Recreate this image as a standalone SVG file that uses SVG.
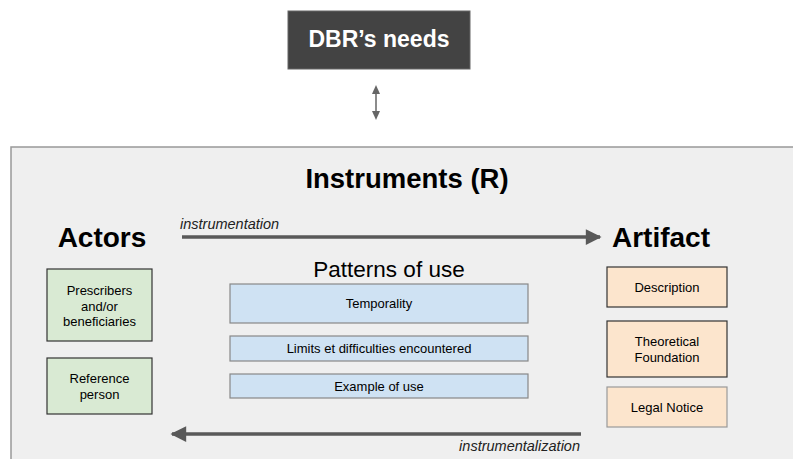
<svg xmlns="http://www.w3.org/2000/svg" width="793" height="459" viewBox="0 0 793 459">
<defs>
<style>
text{font-family:"Liberation Sans",Arial,sans-serif;fill:#000}
.h{font-weight:bold;font-size:28px}
.s{font-size:13px;text-anchor:middle}
.lbl{font-style:italic;font-size:14.5px;fill:#222}
.green{fill:#d9ead3;stroke:#333;stroke-width:1.2}
.blue{fill:#cfe2f3;stroke:#888;stroke-width:1.2}
.orange{fill:#fce5cd;stroke:#333;stroke-width:1.2}
.conn{stroke:#595959;stroke-width:3.5;fill:none}
</style>
<marker id="ah" viewBox="0 0 10 10" refX="9" refY="5" markerWidth="6.5" markerHeight="4.5" markerUnits="strokeWidth" orient="auto">
<path d="M0,0 L10,5 L0,10 z" fill="#595959"/>
</marker>
<marker id="sah" viewBox="0 0 10 10" refX="9" refY="5" markerWidth="7" markerHeight="6" orient="auto">
<path d="M0,0 L10,5 L0,10 z" fill="#666"/>
</marker>
</defs>
<rect width="793" height="459" fill="#fff"/>
<g id="dbr">
<rect x="288" y="11" width="182" height="58" fill="#434343" stroke="#666" stroke-width="1"/>
<text x="379" y="47" text-anchor="middle" font-weight="bold" font-size="23" style="fill:#fff">DBR’s needs</text>
</g>
<g id="instruments">
<rect x="11" y="147" width="800" height="330" fill="#efefef" stroke="#999" stroke-width="1.5"/>
<text x="407" y="188" text-anchor="middle" font-weight="bold" font-size="27.5">Instruments (R)</text>
</g>
<g id="actors">
<text class="h" x="102" y="247" text-anchor="middle">Actors</text>
</g>
<g id="artifact">
<text class="h" x="661" y="247" text-anchor="middle">Artifact</text>
</g>
<g id="patterns">
<text x="389" y="277" text-anchor="middle" font-size="22.5">Patterns of use</text>
</g>
<g id="prescribers">
<rect class="green" x="47" y="269" width="105" height="72"/>
<text class="s" x="99.5" y="295">Prescribers</text>
<text class="s" x="99.5" y="310.5">and/or</text>
<text class="s" x="99.5" y="326">beneficiaries</text>
</g>
<g id="reference">
<rect class="green" x="47" y="358" width="105" height="56"/>
<text class="s" x="99.5" y="383">Reference</text>
<text class="s" x="99.5" y="399">person</text>
</g>
<g id="temporality">
<rect class="blue" x="230" y="284" width="298" height="39"/>
<text class="s" x="379" y="308">Temporality</text>
</g>
<g id="limits">
<rect class="blue" x="230" y="336" width="298" height="25"/>
<text class="s" x="379" y="353">Limits et difficulties encountered</text>
</g>
<g id="example">
<rect class="blue" x="230" y="374" width="298" height="24"/>
<text class="s" x="379" y="390.5">Example of use</text>
</g>
<g id="description">
<rect class="orange" x="607" y="267" width="120" height="40"/>
<text class="s" x="667" y="292">Description</text>
</g>
<g id="theoretical">
<rect class="orange" x="607" y="321" width="120" height="56"/>
<text class="s" x="667" y="346">Theoretical</text>
<text class="s" x="667" y="362">Foundation</text>
</g>
<g id="legal">
<rect class="orange" x="607" y="387" width="120" height="40" style="stroke:#999"/>
<text class="s" x="667" y="412">Legal Notice</text>
</g>
<g id="connectors">
<line x1="376" y1="92" x2="376" y2="113" stroke="#666" stroke-width="1.5"/>
<polygon points="376,85 372,94 380,94" fill="#666"/>
<polygon points="376,120 372,111 380,111" fill="#666"/>
<line class="conn" x1="182" y1="237" x2="600" y2="237" marker-end="url(#ah)"/>
<text class="lbl" x="180" y="229">instrumentation</text>
<line class="conn" x1="581" y1="434" x2="172" y2="434" marker-end="url(#ah)"/>
<text class="lbl" x="580" y="451" text-anchor="end">instrumentalization</text>
</g>
</svg>
